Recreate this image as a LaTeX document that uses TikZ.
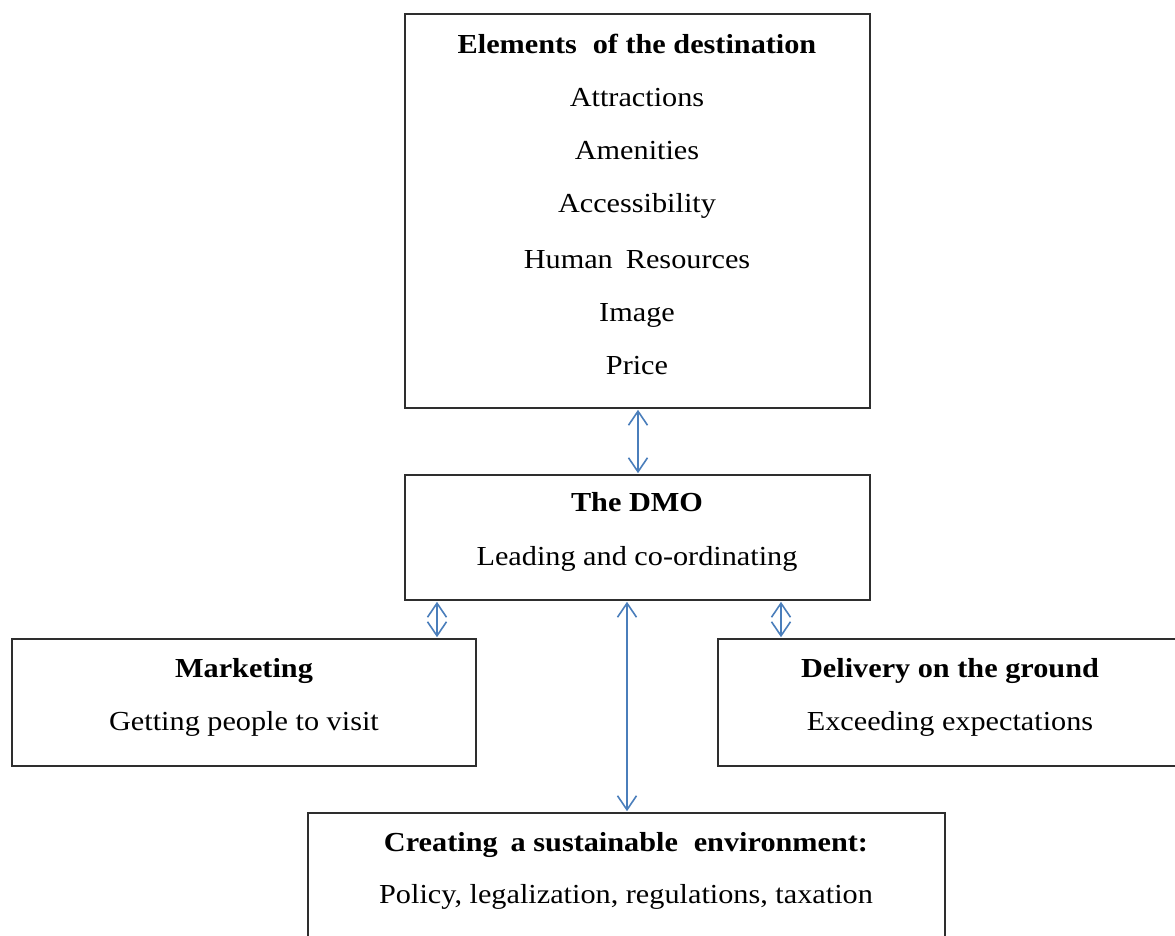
\documentclass[tikz,border=0pt]{standalone}
\usepackage{fontspec}
\setmainfont[FakeStretch=1.1]{Liberation Serif}
\usetikzlibrary{arrows.meta}
\definecolor{arrowblue}{HTML}{4A7EBB}
\definecolor{boxline}{HTML}{2E2E2E}
\tikzset{
  box/.style={draw=boxline, line width=1.8pt, rectangle, inner sep=0pt},
  lbl/.style={font=\fontsize{27.5}{32}\selectfont, inner sep=0pt, anchor=base},
  hdr/.style={font=\fontsize{27.5}{32}\selectfont\bfseries, inner sep=0pt, anchor=base},
  link/.style={draw=arrowblue, line width=1.6pt, {Straight Barb[length=14pt,width=19pt,line width=1.6pt]}-{Straight Barb[length=14pt,width=19pt,line width=1.6pt]}, shorten <=0.9pt, shorten >=0.9pt}
}
\begin{document}
\begin{tikzpicture}[x=1pt,y=-1pt]
\useasboundingbox (0,0) rectangle (1175,936);
\clip (0,0) rectangle (1175,936);
\fill[white] (0,0) rectangle (1175,936);
% boxes
\node[box, minimum width=465pt, minimum height=394pt] (dest) at (637.5,211) {};
\node[box, minimum width=465pt, minimum height=125pt] (dmo) at (637.5,537.5) {};
\node[box, minimum width=464pt, minimum height=127pt] (mkt) at (244,702.5) {};
\node[box, minimum width=480pt, minimum height=127pt] (del) at (958,702.5) {};
\node[box, minimum width=637pt, minimum height=160pt] (env) at (626.5,893) {};
% texts
\node[hdr] (t1) at (637,54) {Elements\hspace{0.3em} of the destination};
\node[lbl] (t2) at (637,107) {Attractions};
\node[lbl] (t3) at (637,160) {Amenities};
\node[lbl] (t4) at (637,213) {Accessibility};
\node[lbl] (t5) at (637,268) {Human\hspace{0.2em} Resources};
\node[lbl] (t6) at (637,321) {Image};
\node[lbl] (t7) at (637,374) {Price};
\node[hdr] (d1) at (637,511) {The DMO};
\node[lbl] (d2) at (637,565) {Leading and co-ordinating};
\node[hdr] (m1) at (244,677) {Marketing};
\node[lbl] (m2) at (244,730) {Getting people to visit};
\node[hdr] (g1) at (950,677) {Delivery on the ground};
\node[lbl] (g2) at (950,730) {Exceeding expectations};
\node[hdr] (e1) at (626,851) {Creating\hspace{0.2em} a sustainable\hspace{0.3em} environment:};
\node[lbl] (e2) at (626,903) {Policy, legalization, regulations, taxation};
% arrows
\draw[link] (dest.south -| 638,0) -- (dmo.north -| 638,0);
\draw[link] (dmo.south -| 437,0) -- (mkt.north -| 437,0);
\draw[link] (dmo.south -| 781,0) -- (del.north -| 781,0);
\draw[link] (dmo.south -| 627,0) -- (env.north -| 627,0);
\end{tikzpicture}
\end{document}
